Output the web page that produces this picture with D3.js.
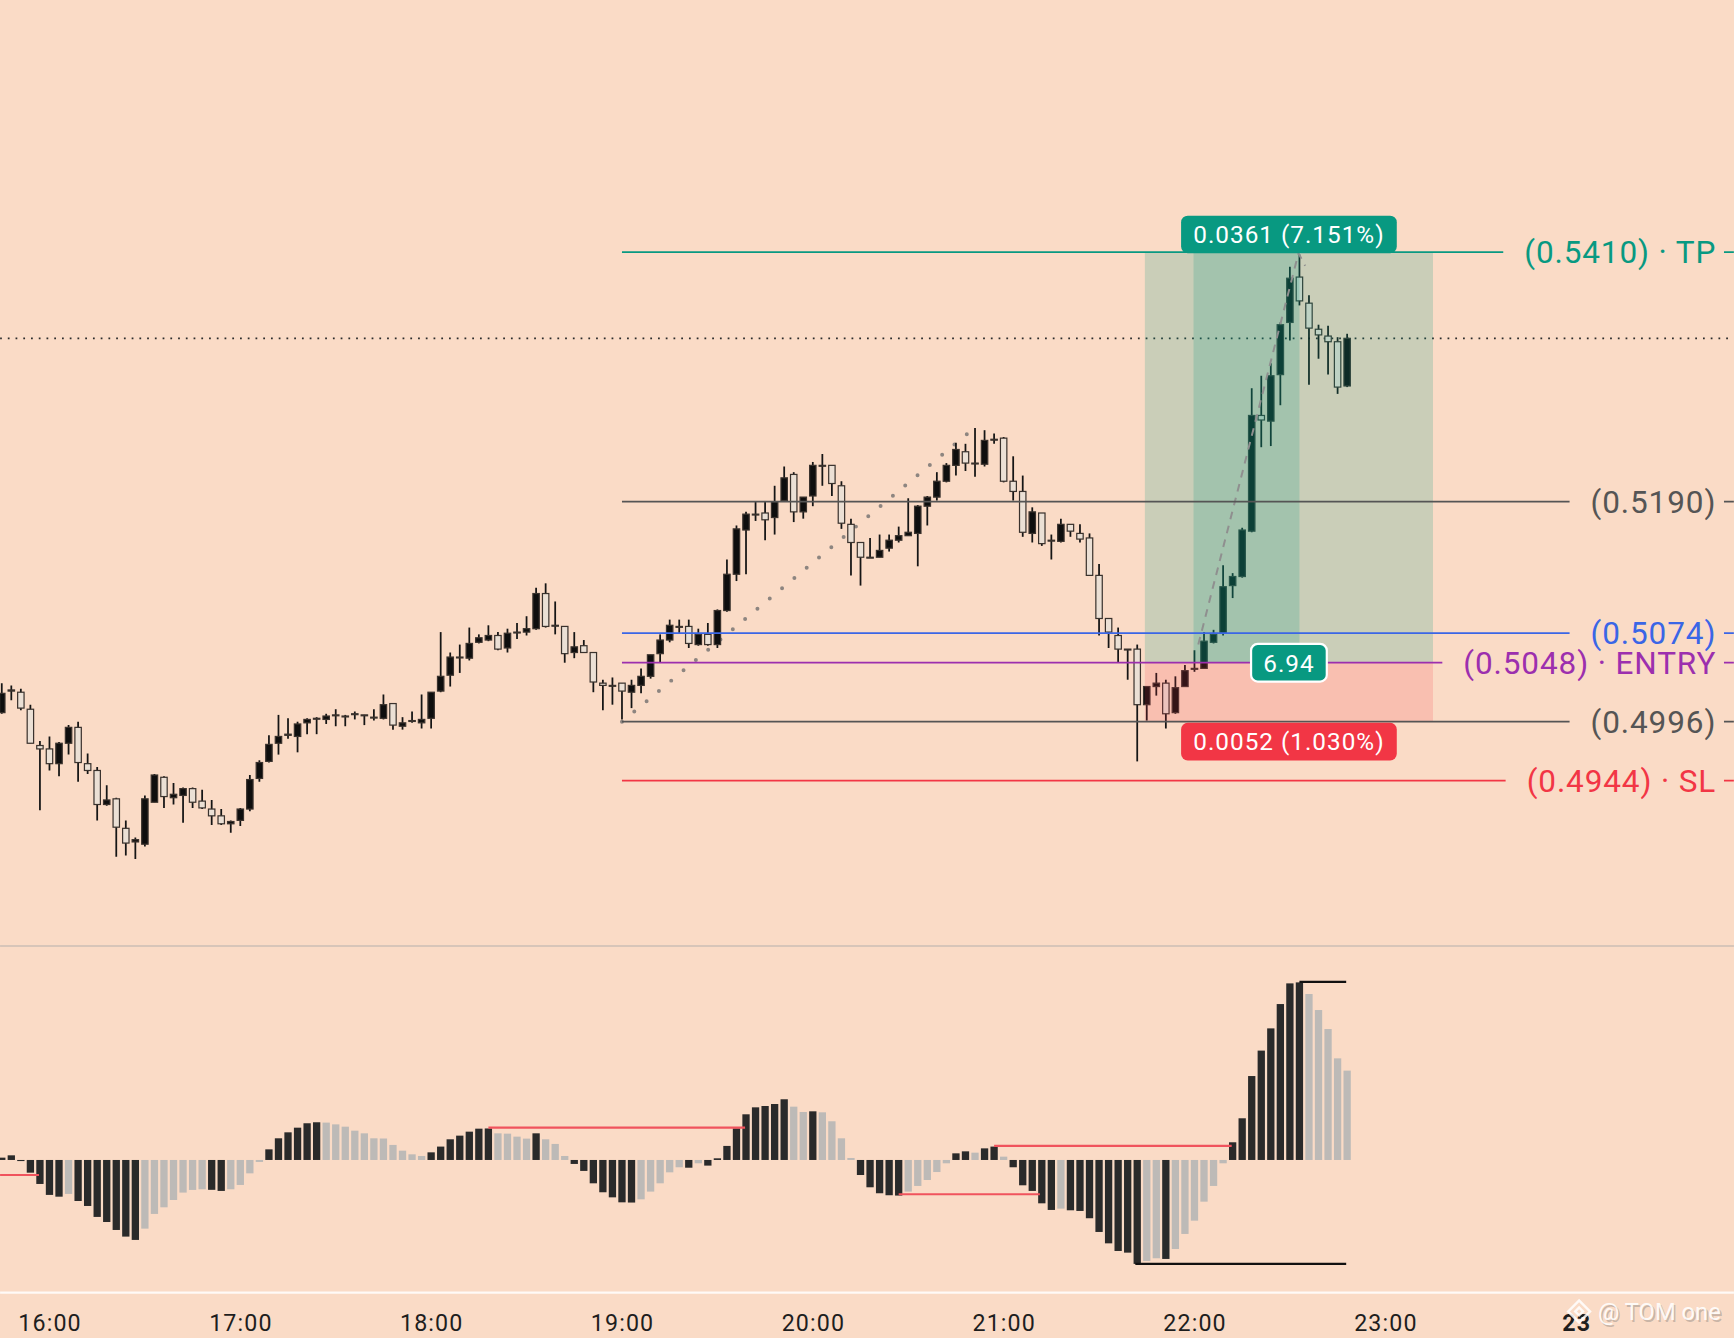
<!DOCTYPE html>
<html>
  <head>
    <meta charset="utf-8">
    <style>
      html, body { margin: 0; padding: 0; background: #fadbc6; }
      svg { display: block; }
      text { font-family: Roboto, 'Noto Sans', sans-serif; }
    </style>
  </head>

  <body>

    <svg class="surface" width="1734" height="1338" viewBox="0 0 1568 1210"></svg>

    <script src="https://cdn.jsdelivr.net/npm/d3@7"></script>
    <script>

      // 3-minute candles, first bar 15:45
      const opens = [
        0.5004, 0.5023, 0.5022, 0.5007, 0.4975, 0.4972, 0.4959, 0.4977, 0.4991, 0.4959,
        0.4953, 0.4923, 0.4928, 0.4902, 0.4890, 0.4888, 0.4925, 0.4947, 0.4929, 0.4931,
        0.4937, 0.4926, 0.4919, 0.4913, 0.4906, 0.4909, 0.4919, 0.4946, 0.4961, 0.4977,
        0.4984, 0.4983, 0.4995, 0.4999, 0.4998, 0.5002, 0.5001, 0.5003, 0.5002, 0.5000,
        0.4999, 0.5012, 0.4992, 0.4997, 0.4995, 0.4999, 0.5023, 0.5037, 0.5053, 0.5052,
        0.5066, 0.5068, 0.5072, 0.5061, 0.5075, 0.5075, 0.5078, 0.5109, 0.5081, 0.5080,
        0.5057, 0.5063, 0.5057, 0.5030, 0.5028, 0.5030, 0.5022, 0.5028, 0.5036, 0.5056,
        0.5068, 0.5080, 0.5080, 0.5064, 0.5073, 0.5064, 0.5094, 0.5126, 0.5165, 0.5179,
        0.5180, 0.5176, 0.5191, 0.5214, 0.5181, 0.5195, 0.5222, 0.5222, 0.5204, 0.5170,
        0.5154, 0.5141, 0.5141, 0.5149, 0.5156, 0.5160, 0.5162, 0.5186, 0.5194, 0.5208,
        0.5222, 0.5234, 0.5224, 0.5223, 0.5245, 0.5246, 0.5208, 0.5199, 0.5162, 0.5180,
        0.5156, 0.5155, 0.5170, 0.5162, 0.5158, 0.5125, 0.5087, 0.5072, 0.5060, 0.5060,
        0.5011, 0.5027, 0.5030, 0.5004, 0.5027, 0.5043, 0.5043, 0.5066, 0.5074, 0.5116,
        0.5124, 0.5164, 0.5266, 0.5261, 0.5302, 0.5348, 0.5388, 0.5365, 0.5342, 0.5336,
        0.5331, 0.5292
      ]
      const highs = [
        0.5030, 0.5028, 0.5025, 0.5011, 0.4979, 0.4983, 0.4978, 0.4993, 0.4996, 0.4968,
        0.4956, 0.4940, 0.4929, 0.4909, 0.4894, 0.4931, 0.4950, 0.4948, 0.4942, 0.4938,
        0.4938, 0.4936, 0.4927, 0.4919, 0.4909, 0.4920, 0.4949, 0.4962, 0.4984, 0.5002,
        0.4999, 0.4996, 0.4999, 0.5000, 0.5003, 0.5007, 0.5002, 0.5005, 0.5002, 0.5007,
        0.5020, 0.5012, 0.5000, 0.5005, 0.5020, 0.5022, 0.5075, 0.5057, 0.5064, 0.5079,
        0.5073, 0.5081, 0.5075, 0.5078, 0.5083, 0.5089, 0.5114, 0.5118, 0.5102, 0.5080,
        0.5075, 0.5068, 0.5057, 0.5033, 0.5035, 0.5030, 0.5033, 0.5043, 0.5055, 0.5073,
        0.5086, 0.5086, 0.5086, 0.5078, 0.5083, 0.5095, 0.5139, 0.5169, 0.5181, 0.5190,
        0.5190, 0.5204, 0.5221, 0.5216, 0.5194, 0.5225, 0.5232, 0.5222, 0.5208, 0.5175,
        0.5154, 0.5158, 0.5161, 0.5161, 0.5168, 0.5193, 0.5187, 0.5195, 0.5216, 0.5224,
        0.5242, 0.5241, 0.5255, 0.5253, 0.5250, 0.5247, 0.5230, 0.5213, 0.5185, 0.5180,
        0.5161, 0.5175, 0.5170, 0.5170, 0.5162, 0.5135, 0.5087, 0.5079, 0.5060, 0.5064,
        0.5027, 0.5039, 0.5033, 0.5036, 0.5046, 0.5059, 0.5075, 0.5077, 0.5134, 0.5127,
        0.5167, 0.5290, 0.5301, 0.5312, 0.5348, 0.5397, 0.5408, 0.5372, 0.5346, 0.5345,
        0.5335, 0.5338
      ]
      const lows = [
        0.5003, 0.5015, 0.5006, 0.4977, 0.4918, 0.4953, 0.4948, 0.4967, 0.4943, 0.4950,
        0.4909, 0.4922, 0.4877, 0.4878, 0.4875, 0.4886, 0.4925, 0.4920, 0.4923, 0.4907,
        0.4920, 0.4919, 0.4905, 0.4905, 0.4898, 0.4904, 0.4917, 0.4943, 0.4960, 0.4967,
        0.4981, 0.4969, 0.4985, 0.4985, 0.4994, 0.4992, 0.4992, 0.4998, 0.4993, 0.4997,
        0.4998, 0.4989, 0.4989, 0.4995, 0.4990, 0.4990, 0.5022, 0.5027, 0.5039, 0.5050,
        0.5065, 0.5067, 0.5059, 0.5057, 0.5069, 0.5072, 0.5077, 0.5079, 0.5073, 0.5048,
        0.5052, 0.5057, 0.5022, 0.5006, 0.5011, 0.4998, 0.5008, 0.5021, 0.5034, 0.5048,
        0.5066, 0.5074, 0.5061, 0.5063, 0.5063, 0.5061, 0.5093, 0.5120, 0.5126, 0.5173,
        0.5156, 0.5161, 0.5191, 0.5172, 0.5175, 0.5186, 0.5204, 0.5195, 0.5166, 0.5125,
        0.5116, 0.5141, 0.5141, 0.5146, 0.5154, 0.5160, 0.5133, 0.5169, 0.5191, 0.5207,
        0.5213, 0.5217, 0.5212, 0.5221, 0.5241, 0.5207, 0.5191, 0.5159, 0.5154, 0.5151,
        0.5139, 0.5154, 0.5159, 0.5154, 0.5125, 0.5072, 0.5061, 0.5048, 0.5033, 0.4961,
        0.4997, 0.5019, 0.4990, 0.5003, 0.5027, 0.5040, 0.5043, 0.5065, 0.5072, 0.5105,
        0.5123, 0.5163, 0.5238, 0.5239, 0.5275, 0.5332, 0.5363, 0.5293, 0.5316, 0.5302,
        0.5285, 0.5291
      ]
      const closes = [
        0.5021, 0.5024, 0.5008, 0.4977, 0.4972, 0.4959, 0.4977, 0.4991, 0.4960, 0.4953,
        0.4923, 0.4927, 0.4903, 0.4889, 0.4892, 0.4928, 0.4949, 0.4930, 0.4932, 0.4937,
        0.4925, 0.4920, 0.4913, 0.4906, 0.4908, 0.4919, 0.4945, 0.4960, 0.4976, 0.4983,
        0.4985, 0.4994, 0.4998, 0.4999, 0.5001, 0.5002, 0.5001, 0.5003, 0.5002, 0.5000,
        0.5011, 0.4993, 0.4995, 0.4997, 0.4998, 0.5022, 0.5036, 0.5053, 0.5053, 0.5065,
        0.5070, 0.5072, 0.5060, 0.5074, 0.5075, 0.5078, 0.5109, 0.5080, 0.5081, 0.5056,
        0.5062, 0.5057, 0.5031, 0.5028, 0.5028, 0.5023, 0.5028, 0.5036, 0.5055, 0.5068,
        0.5081, 0.5080, 0.5065, 0.5073, 0.5064, 0.5094, 0.5126, 0.5166, 0.5179, 0.5179,
        0.5174, 0.5190, 0.5211, 0.5181, 0.5194, 0.5222, 0.5222, 0.5206, 0.5171, 0.5154,
        0.5141, 0.5141, 0.5147, 0.5156, 0.5160, 0.5163, 0.5186, 0.5194, 0.5208, 0.5222,
        0.5236, 0.5224, 0.5224, 0.5244, 0.5245, 0.5208, 0.5199, 0.5163, 0.5181, 0.5153,
        0.5156, 0.5170, 0.5164, 0.5157, 0.5125, 0.5087, 0.5075, 0.5060, 0.5060, 0.5011,
        0.5027, 0.5030, 0.5003, 0.5026, 0.5041, 0.5043, 0.5067, 0.5073, 0.5115, 0.5124,
        0.5165, 0.5266, 0.5262, 0.5301, 0.5346, 0.5387, 0.5367, 0.5343, 0.5337, 0.5331,
        0.5291, 0.5334
      ]

      // MACD histogram, in units of 1e-5
      const macdHist = [
        2.1, 4.2, -1.0, -11.5, -21.7, -31.6, -33.2, -30.7, -37.1, -41.6,
        -51.5, -56.1, -63.3, -69.3, -72.3, -62.1, -48.8, -42.8, -36.2, -29.5,
        -27.1, -26.5, -27.0, -28.0, -26.5, -22.6, -12.1, -1.8, 9.6, 19.6,
        25.0, 29.2, 33.2, 34.1, 33.8, 32.2, 30.1, 26.5, 24.1, 19.6,
        19.4, 13.6, 8.4, 5.1, 3.6, 6.9, 12.1, 18.7, 22.0, 25.6,
        28.3, 28.5, 24.1, 23.8, 21.1, 19.3, 24.1, 18.7, 14.5, 3.6,
        -3.6, -9.9, -21.1, -29.2, -33.8, -38.3, -38.5, -35.6, -28.6, -21.1,
        -11.2, -6.6, -7.0, -3.0, -5.1, 1.5, 12.7, 28.6, 41.3, 47.6,
        48.8, 50.6, 54.9, 48.2, 43.4, 44.0, 43.1, 35.0, 19.6, 1.8,
        -13.6, -24.7, -30.1, -31.9, -32.2, -28.6, -23.5, -18.1, -10.9, -3.0,
        6.0, 7.8, 6.6, 10.5, 12.1, 3.0, -6.6, -22.9, -28.0, -39.2,
        -45.2, -44.0, -45.5, -46.1, -52.7, -65.1, -75.4, -82.3, -83.8, -94.0,
        -91.3, -88.9, -89.5, -80.5, -66.9, -54.9, -37.7, -23.5, -3.0, 16.0,
        37.7, 75.9, 98.9, 119.0, 141.0, 159.7, 160.6, 150.1, 135.6, 118.4,
        91.9, 80.8
      ]

      // horizontal levels drawn from the 19:00 bar
      const levels = [0.5410, 0.5190, 0.5074, 0.5048, 0.4996, 0.4944]
      const levelLabels = ['(0.5410) · TP', '(0.5190)', '(0.5074)', '(0.5048) · ENTRY', '(0.4996)', '(0.4944) · SL']
      const levelColors = ['#089981', '#555555', '#3a66e6', '#9c2fae', '#555555', '#f23645']
      const levelStartBar = 65

      // long position tool
      const posEntry = 0.5048, posTarget = 0.5410, posStop = 0.4996
      const posBars = [119.8, 150]
      const posFilledBars = [124.9, 136]
      const posLabels = ['0.0361 (7.151%)', '6.94', '0.0052 (1.030%)']

      // drawings: [bar index, price]
      const trendDots = [[65, 0.4996], [101.5, 0.5252]]
      const tradePath = [[125.4, 0.5064], [135.9, 0.5409], [136.6, 0.5398]]

      // histogram drawings: [from bar, to bar, value]
      const histRedLines = [[-1, 3.9, -13.6], [51, 77.9, 29.2], [94, 108.8, -31.0], [104, 128.9, 12.7]]
      const histBlackLines = [[136, 140.9, 161.0], [118.8, 140.9, -94.0]]

      const tickLabels = ['16:00', '17:00', '18:00', '19:00', '20:00', '21:00', '22:00', '23:00', '23']

      const start = new Date(2024, 3, 22, 15, 45)
      const barTime = i => new Date(start.getTime() + i * 180000)
      const tickTimes = tickLabels.map((d, i) => new Date(2024, 3, 22, 16 + i, 0))

      const svg = d3.select('.surface')

      const x = d3.scaleTime()
        .domain([start, new Date(2024, 3, 23, 0, 0)])
        .range([1.54, 1425.3])
      const xi = i => x(barTime(i))

      const y = d3.scaleLinear().domain([0.4944, 0.5410]).range([706, 228])
      const h = d3.scaleLinear().domain([0, 100]).range([1049, 949])

      const bars = opens.map((o, i) => ({ i, o, h: highs[i], l: lows[i], c: closes[i] }))

      svg.append('rect').attr('width', 1568).attr('height', 1210).attr('fill', '#fadbc6')

      const defs = svg.append('defs')
      defs.append('clipPath').attr('id', 'pricePane')
        .append('rect').attr('width', 1568).attr('height', 854)

      const price = svg.append('g').attr('clip-path', 'url(#pricePane)')

      // current price line
      const last = closes[closes.length - 1]
      price.append('line')
        .attr('x1', 0).attr('x2', 1568)
        .attr('y1', y(last)).attr('y2', y(last))
        .attr('stroke', '#2b2b2b').attr('stroke-width', 1.6)
        .attr('stroke-dasharray', '1.6 5.4')

      // trend line made of dots
      price.append('line')
        .attr('x1', xi(trendDots[0][0])).attr('y1', y(trendDots[0][1]))
        .attr('x2', xi(trendDots[1][0])).attr('y2', y(trendDots[1][1]))
        .attr('stroke', '#8d8580').attr('stroke-width', 3.6)
        .attr('stroke-linecap', 'round')
        .attr('stroke-dasharray', '0 14.5')

      // candles
      const candles = price.append('g')
      candles.selectAll('line')
        .data(bars)
        .enter()
        .append('line')
        .attr('x1', d => xi(d.i)).attr('x2', d => xi(d.i))
        .attr('y1', d => y(d.h)).attr('y2', d => y(d.l))
        .attr('stroke', '#151515').attr('stroke-width', 1.6)

      candles.selectAll('rect')
        .data(bars)
        .enter()
        .append('rect')
        .attr('x', d => xi(d.i) - 2.9)
        .attr('width', 5.8)
        .attr('y', d => y(Math.max(d.o, d.c)))
        .attr('height', d => Math.max(0.8, Math.abs(y(d.o) - y(d.c))))
        .attr('fill', d => d.c >= d.o ? '#0e0e0e' : '#ebe0d5')
        .attr('stroke', '#3a322d').attr('stroke-width', 1.1)

      // position box
      const pos = price.append('g')
      pos.append('rect')
        .attr('x', xi(posBars[0])).attr('width', xi(posBars[1]) - xi(posBars[0]))
        .attr('y', y(posTarget)).attr('height', y(posEntry) - y(posTarget))
        .attr('fill', '#089981').attr('fill-opacity', 0.2)
      pos.append('rect')
        .attr('x', xi(posBars[0])).attr('width', xi(posBars[1]) - xi(posBars[0]))
        .attr('y', y(posEntry)).attr('height', y(posStop) - y(posEntry))
        .attr('fill', '#f23645').attr('fill-opacity', 0.17)
      pos.append('rect')
        .attr('x', xi(posFilledBars[0])).attr('width', xi(posFilledBars[1]) - xi(posFilledBars[0]))
        .attr('y', y(posTarget)).attr('height', y(posEntry) - y(posTarget))
        .attr('fill', '#089981').attr('fill-opacity', 0.2)

      // dashed path of the trade
      price.append('path')
        .attr('d', d3.line().x(d => xi(d[0])).y(d => y(d[1]))(tradePath))
        .attr('fill', 'none')
        .attr('stroke', '#8f8f8f').attr('stroke-width', 1.8)
        .attr('stroke-dasharray', '7 6')

      // level lines with their labels
      levels.forEach((lv, i) => {
        const ly = y(lv)
        const label = price.append('text')
          .attr('x', 1552).attr('y', ly + 10)
          .attr('text-anchor', 'end')
          .attr('font-size', 28.5)
          .attr('letter-spacing', 0.8)
          .attr('fill', levelColors[i])
          .text(levelLabels[i])
        const w = label.node().getComputedTextLength()
        price.append('line')
          .attr('x1', xi(levelStartBar)).attr('x2', 1552 - w - 19)
          .attr('y1', ly).attr('y2', ly)
          .attr('stroke', levelColors[i]).attr('stroke-width', 1.6)
        price.append('line')
          .attr('x1', 1559).attr('x2', 1568)
          .attr('y1', ly).attr('y2', ly)
          .attr('stroke', levelColors[i]).attr('stroke-width', 1.6)
      })

      // position labels
      const cx = xi((posBars[0] + posBars[1]) / 2)
      function badge(txt, cy, fill, outline) {
        const g = price.append('g')
        const r = g.append('rect')
        const t = g.append('text')
          .attr('x', cx).attr('y', cy + 8)
          .attr('text-anchor', 'middle')
          .attr('font-size', 22)
          .attr('letter-spacing', 0.9)
          .attr('fill', '#ffffff')
          .text(txt)
        const w = t.node().getComputedTextLength()
        r.attr('x', cx - w / 2 - 11).attr('width', w + 22)
          .attr('y', cy - 17).attr('height', 34)
          .attr('rx', 6)
          .attr('fill', fill)
        if (outline) r.attr('stroke', '#ffffff').attr('stroke-width', 2)
      }
      badge(posLabels[0], y(posTarget) - 16, '#089981', false)
      badge(posLabels[1], y(posEntry), '#089981', true)
      badge(posLabels[2], y(posStop) + 18, '#f23645', false)

      // pane separator
      svg.append('line')
        .attr('x1', 0).attr('x2', 1568).attr('y1', 855.5).attr('y2', 855.5)
        .attr('stroke', '#d7c5b9').attr('stroke-width', 2)

      // histogram
      const hist = svg.append('g')
      hist.selectAll('rect')
        .data(macdHist)
        .enter()
        .append('rect')
        .attr('x', (d, i) => xi(i) - 3.3)
        .attr('width', 6.6)
        .attr('y', d => h(Math.max(d, 0)))
        .attr('height', d => Math.abs(h(d) - h(0)))
        .attr('fill', (d, i) => {
          const prev = i > 0 ? macdHist[i - 1] : d
          const growing = d >= 0 ? d >= prev : d <= prev
          return growing ? '#2a2a2a' : '#bdbab7'
        })

      hist.selectAll('line.red')
        .data(histRedLines)
        .enter()
        .append('line')
        .attr('class', 'red')
        .attr('x1', d => Math.max(0, xi(d[0]))).attr('x2', d => xi(d[1]))
        .attr('y1', d => h(d[2])).attr('y2', d => h(d[2]))
        .attr('stroke', '#f0535d').attr('stroke-width', 2)

      hist.selectAll('line.black')
        .data(histBlackLines)
        .enter()
        .append('line')
        .attr('class', 'black')
        .attr('x1', d => xi(d[0])).attr('x2', d => xi(d[1]))
        .attr('y1', d => h(d[2])).attr('y2', d => h(d[2]))
        .attr('stroke', '#111111').attr('stroke-width', 2)

      // time axis
      svg.append('line')
        .attr('x1', 0).attr('x2', 1568).attr('y1', 1169).attr('y2', 1169)
        .attr('stroke', '#ffffff').attr('stroke-opacity', 0.85).attr('stroke-width', 2)

      const axis = svg.append('g')
        .attr('transform', 'translate(0,1181)')
        .call(d3.axisBottom(x)
          .tickValues(tickTimes)
          .tickFormat((d, i) => tickLabels[i])
          .tickSize(0)
          .tickPadding(8))
      axis.select('.domain').remove()
      axis.selectAll('text')
        .attr('font-family', 'Roboto, sans-serif')
        .attr('font-size', 21)
        .attr('letter-spacing', 1)
        .attr('fill', '#1e1e1e')
        .filter((d, i) => i === tickLabels.length - 1)
        .attr('font-weight', 'bold')

      // watermark: small diamond mark and the handle
      const mark = svg.append('g')
        .attr('transform', 'translate(1428,1186) rotate(45)')
        .attr('fill', 'none')
        .attr('stroke', '#ffffff').attr('stroke-opacity', 0.85).attr('stroke-width', 2.2)
      mark.append('rect').attr('x', -7).attr('y', -7).attr('width', 14).attr('height', 14)
      mark.append('rect').attr('x', -2.5).attr('y', -2.5).attr('width', 5).attr('height', 5)

      svg.append('text')
        .attr('x', 1446.5).attr('y', 1195.5)
        .attr('font-size', 21.5)
        .attr('fill', '#8c8580').attr('fill-opacity', 0.45)
        .text('@ TOM one')
      svg.append('text')
        .attr('x', 1445).attr('y', 1194)
        .attr('font-size', 21.5)
        .attr('fill', '#ffffff').attr('fill-opacity', 0.9)
        .text('@ TOM one')

    </script>
  </body>

</html>
